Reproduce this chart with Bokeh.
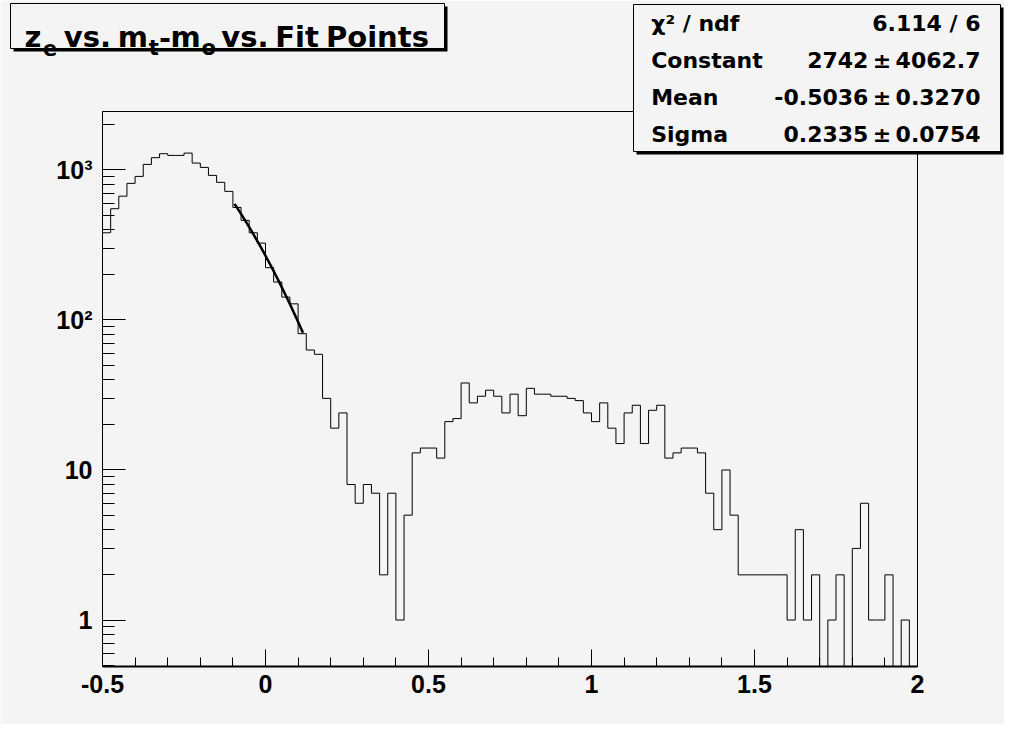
import numpy as np
from bokeh.plotting import figure
from bokeh.layouts import column
from bokeh.models import Range1d, FixedTicker, Label
from bokeh.embed import file_html
from bokeh.resources import INLINE

# ---------------- data ----------------
x_min, x_max, n_bins = -0.5, 2.0, 100
counts = [381, 551, 668, 813, 905, 1088, 1206, 1282, 1249, 1249,
          1294, 1110, 1039, 919, 826, 719, 562, 461, 381, 325,
          223, 179, 142, 128, 81, 63, 59, 30, 19, 24,
          8, 6, 8, 7, 2, 7, 1, 5, 13, 14,
          14, 12, 21, 22, 38, 28, 31, 34, 31, 24,
          32, 23, 35, 32, 32, 31, 31, 30, 29, 24,
          21, 28, 19, 15, 24, 27, 15, 25, 27, 12,
          13, 14, 14, 13, 7, 4, 10, 5, 2, 2,
          2, 2, 2, 2, 1, 4, 1, 2, 0, 1,
          2, 0, 3, 6, 1, 1, 2, 0, 1, 0]

fit_constant, fit_mean, fit_sigma = 2742.0, -0.5036, 0.2335
fit_lo, fit_hi = -0.095, 0.115

x_major = [-0.5, 0.0, 0.5, 1.0, 1.5, 2.0]
x_labels = ["-0.5", "0", "0.5", "1", "1.5", "2"]
y_major = [1, 10, 100, 1000]
y_labels = ["1", "10", "10\u00b2", "10\u00b3"]

stat_names = ["\u03c7\u00b2 / ndf", "Constant", "Mean", "Sigma"]
stat_values = ["6.114 / 6",
               "2742\u2009\u00b1\u20094062.7",
               "-0.5036\u2009\u00b1\u20090.3270",
               "0.2335\u2009\u00b1\u20090.0754"]

# title pieces: (text, is_subscript, left position in px)
title_pieces = [("z", False, 24), ("e", True, 42.6), ("vs.", False, 63.3), ("m", False, 117.2),
                ("t", True, 148.3), ("-", False, 158.6), ("m", False, 170), ("o", True, 201),
                ("vs.", False, 220.8), ("Fit", False, 274.7), ("Points", False, 325.5)]

# ---------------- main figure ----------------
bg = "#f4f4f4"
W, H = 1004, 724
p = figure(width=W, height=H, title=None,
           x_range=Range1d(x_min, x_max), y_range=Range1d(0.49, 2450),
           y_axis_type="log", output_backend="svg", toolbar_location=None,
           min_border_left=102, min_border_right=W - 917,
           min_border_top=111, min_border_bottom=H - 666,
           background_fill_color=bg, border_fill_color=bg)
p.frame_align = False
p.grid.visible = False
p.outline_line_color = "black"
p.outline_line_width = 1

edges = list(np.linspace(x_min, x_max, n_bins + 1))
y_plot = [c if c > 0 else 1e-3 for c in counts]
y_plot = y_plot + [y_plot[-1]]
p.step(edges, y_plot, mode="after", line_color="black", line_width=1)

xf = np.linspace(fit_lo, fit_hi, 80)
yf = fit_constant * np.exp(-0.5 * ((xf - fit_mean) / fit_sigma) ** 2)
p.line(xf, yf, line_color="black", line_width=2.5)

x_minor = [round(v, 2) for v in np.arange(-0.5, 2.0001, 0.1)]
p.xaxis.ticker = FixedTicker(ticks=x_major, minor_ticks=x_minor)
p.xaxis.major_label_overrides = {float(v): s for v, s in zip(x_major, x_labels)}
y_minor = [m * 10.0 ** k for k in range(-1, 4) for m in range(2, 10)]
p.yaxis.ticker = FixedTicker(ticks=y_major, minor_ticks=y_minor)
p.yaxis.major_label_overrides = {int(v): s for v, s in zip(y_major, y_labels)}

for ax in p.axis:
    ax.major_tick_out = 0
    ax.minor_tick_out = 0
    ax.axis_line_color = "black"
    ax.major_tick_line_color = "black"
    ax.minor_tick_line_color = "black"
    ax.major_label_text_font = "Liberation Sans"
    ax.major_label_text_font_style = "bold"
    ax.major_label_text_font_size = "25px"
    ax.major_label_text_color = "black"
p.xaxis.major_tick_in = 17
p.xaxis.minor_tick_in = 9
p.xaxis.axis_line_width = 2
p.xaxis.major_label_standoff = 8
p.yaxis.major_tick_in = 23
p.yaxis.minor_tick_in = 12
p.yaxis.axis_line_width = 1
p.yaxis.major_label_standoff = 10

# ---------------- overlay (title + stats boxes), pixel coordinates ----------------
ov = figure(width=W, height=H, title=None,
            x_range=Range1d(0, W), y_range=Range1d(H, 0),
            output_backend="svg", toolbar_location=None,
            x_axis_location=None, y_axis_location=None,
            min_border_left=0, min_border_right=0,
            min_border_top=0, min_border_bottom=0,
            background_fill_color=None, border_fill_color=None,
            outline_line_color=None)
ov.frame_align = False
ov.grid.visible = False
ov.margin = (-H, 0, 0, 0)


def box(l, r, t, b, shadow=3):
    ov.quad(left=l + shadow, right=r + shadow, top=t + shadow, bottom=b + shadow,
            fill_color="black", line_color=None)
    ov.quad(left=l, right=r, top=t, bottom=b, fill_color=bg,
            line_color="black", line_width=1)


def label(x, y, text, size, align="left", baseline="alphabetic"):
    ov.add_layout(Label(x=x, y=y, text=text, text_font="DejaVu Sans",
                        text_font_style="bold", text_font_size=size,
                        text_color="black", text_align=align,
                        text_baseline=baseline))

# title
box(10, 444, 3, 48)
for txt, sub, xpos in title_pieces:
    if sub:
        label(xpos, 47.5, txt, "21px")
    else:
        label(xpos, 36.7, txt, "29px")

# stats
box(633, 1000, 4, 151)
rows = [22.5, 59.5, 96.5, 133.5]
for ry, nm, val in zip(rows, stat_names, stat_values):
    label(650.7, ry, nm, "22px", "left", "middle")
    label(980, ry, val, "22px", "right", "middle")

layout = column(p, ov)
open("out.html", "w").write(file_html(layout, INLINE))
